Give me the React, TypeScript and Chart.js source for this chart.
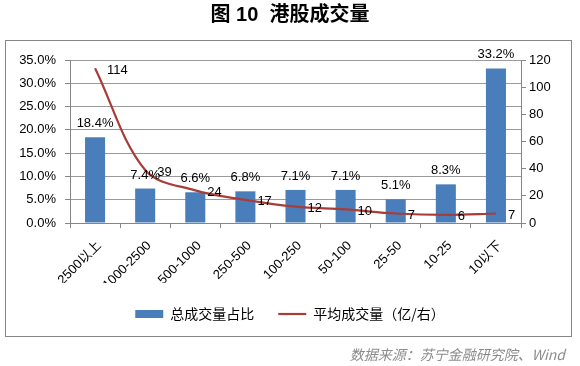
import React, { useEffect, useRef } from "react";
import { Chart, registerables } from "chart.js";

Chart.register(...registerables);

const titleText = "图 10  港股成交量";
const sourceText = "数据来源：苏宁金融研究院、Wind";
const categories = ["2500以上", "1000-2500", "500-1000", "250-500", "100-250", "50-100", "25-50", "10-25", "10以下"];
const seriesNames = ["总成交量占比", "平均成交量（亿/右）"];
const sharePct = [18.4, 7.4, 6.6, 6.8, 7.1, 7.1, 5.1, 8.3, 33.2];
const avgVolume = [114, 39, 24, 17, 12, 10, 7, 6, 7];
const leftMax = 35;
const leftStep = 5;
const rightMax = 120;
const rightStep = 20;

const FONT = "'Liberation Sans', 'Noto Sans CJK SC', sans-serif";
const CJK = "'Noto Sans CJK SC', 'Liberation Sans', sans-serif";
const BAR = "#4A7EBB";
const LINE = "#A83C38";
const GRID = "#9a9a9a";
const AXIS = "#868686";

const decor = {
  id: "decor",
  beforeDraw(chart: any) {
    const ctx = chart.ctx;
    ctx.save();
    ctx.fillStyle = "#ffffff";
    ctx.fillRect(0, 0, chart.width, chart.height);
    ctx.strokeStyle = AXIS;
    ctx.lineWidth = 1;
    ctx.strokeRect(5.5, 40.5, 566, 296);
    ctx.restore();
  },
  afterDatasetsDraw(chart: any) {
    const ctx = chart.ctx;
    ctx.save();
    ctx.fillStyle = "#000";
    ctx.font = `13px ${FONT}`;
    const barMeta = chart.getDatasetMeta(0);
    ctx.textAlign = "center";
    ctx.textBaseline = "bottom";
    barMeta.data.forEach((el: any, i: number) => {
      ctx.fillText(sharePct[i].toFixed(1) + "%", el.x, el.y - 7);
    });
    const lineMeta = chart.getDatasetMeta(1);
    ctx.textAlign = "left";
    ctx.textBaseline = "middle";
    lineMeta.data.forEach((el: any, i: number) => {
      ctx.fillText(String(avgVolume[i]), el.x + 12, el.y + 2);
    });
    ctx.restore();
  },
  afterDraw(chart: any) {
    const ctx = chart.ctx;
    ctx.save();
    ctx.fillStyle = "#000";
    ctx.font = `bold 20px ${FONT}`;
    ctx.textAlign = "center";
    ctx.textBaseline = "middle";
    ctx.fillText(titleText, 290, 15);
    ctx.fillStyle = "#8c8c8c";
    ctx.font = `italic 14px ${CJK}`;
    ctx.textAlign = "right";
    ctx.fillText(sourceText, 565, 355);
    ctx.restore();
  },
};

export default function App() {
  const ref = useRef<HTMLCanvasElement | null>(null);
  useEffect(() => {
    if (!ref.current) return;
    const chart = new Chart(ref.current, {
      type: "bar",
      data: {
        labels: categories,
        datasets: [
          {
            type: "bar",
            label: seriesNames[0],
            data: sharePct,
            backgroundColor: BAR,
            borderWidth: 0,
            barPercentage: 0.4,
            categoryPercentage: 1,
            yAxisID: "y",
            order: 1,
            pointStyle: "rect",
          } as any,
          {
            type: "line",
            label: seriesNames[1],
            data: avgVolume,
            borderColor: LINE,
            backgroundColor: LINE,
            borderWidth: 2.2,
            pointRadius: 0,
            tension: 0.35,
            yAxisID: "y1",
            order: 0,
            pointStyle: "line",
          } as any,
        ],
      },
      options: {
        responsive: false,
        animation: false,
        devicePixelRatio: 1,
        font: { family: FONT, size: 13 },
        layout: { padding: { top: 60, left: 0, right: 0, bottom: 35 } },
        plugins: {
          title: { display: false },
          tooltip: { enabled: false },
          legend: {
            position: "bottom",
            labels: {
              usePointStyle: true,
              pointStyleWidth: 28,
              boxHeight: 8,
              padding: 24,
              color: "#000",
              font: { family: CJK, size: 14 },
              sort: (a: any, b: any) => a.datasetIndex - b.datasetIndex,
            },
          },
        },
        scales: {
          x: {
            grid: { display: true, drawOnChartArea: false, tickLength: 5, color: AXIS, offset: true },
            border: { display: true, color: AXIS },
            ticks: {
              color: "#000",
              font: { family: FONT, size: 13 },
              minRotation: 45,
              maxRotation: 45,
              autoSkip: false,
              labelOffset: 4,
              padding: 10,
            },
            afterFit: (s: any) => {
              s.height = 60;
            },
          },
          y: {
            position: "left",
            min: 0,
            max: leftMax,
            ticks: {
              stepSize: leftStep,
              color: "#000",
              font: { family: FONT, size: 13 },
              padding: 9,
              callback: (v: any) => Number(v).toFixed(1) + "%",
            },
            grid: { color: GRID, tickLength: 5, tickColor: AXIS },
            border: { display: true, color: AXIS },
            afterFit: (s: any) => {
              s.width = 70;
            },
          },
          y1: {
            position: "right",
            min: 0,
            max: rightMax,
            ticks: {
              stepSize: rightStep,
              color: "#000",
              font: { family: FONT, size: 13 },
              padding: 3,
            },
            grid: { drawOnChartArea: false, tickLength: 5, color: AXIS },
            border: { display: true, color: AXIS },
            afterFit: (s: any) => {
              s.width = 59;
            },
          },
        },
      },
      plugins: [decor],
    } as any);
    return () => chart.destroy();
  }, []);
  return (
    <div style={{ position: "absolute", left: 0, top: 0, width: 580, height: 366 }}>
      <canvas ref={ref} width={580} height={366} style={{ width: 580, height: 366 }} />
    </div>
  );
}
